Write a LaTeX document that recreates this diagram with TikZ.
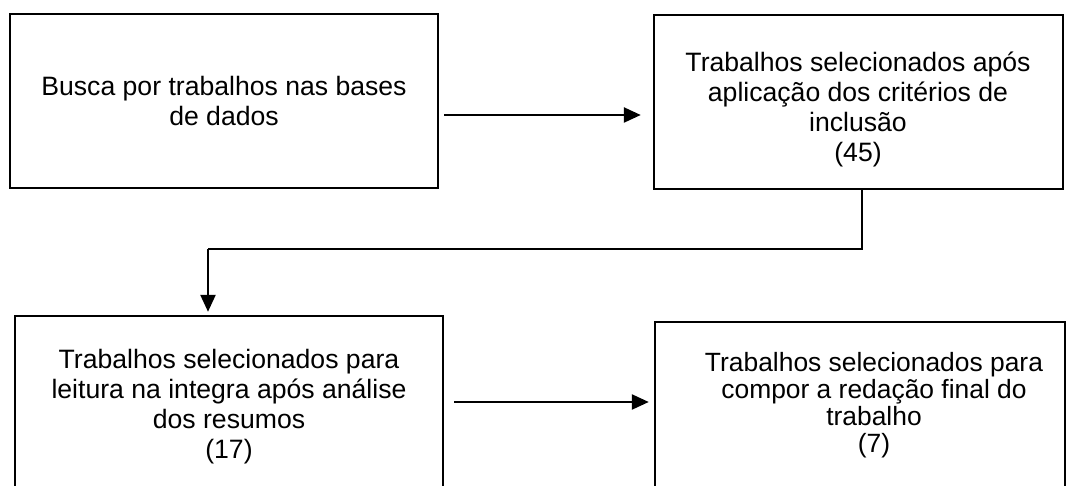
\documentclass[tikz,border=0pt]{standalone}
\usepackage{fontspec}
\setmainfont{Liberation Sans}
\usetikzlibrary{arrows.meta}

\begin{document}
\begin{tikzpicture}[x=0.5pt, y=-0.5pt, ->, >={Triangle[length=8.5pt,width=7.5pt]}]

    \useasboundingbox (0,0) rectangle (1077,486);

    \tikzset{stage/.style={rectangle,
          draw,
          line width = 1.2pt,
          minimum width = 214pt,
          minimum height = 87pt},
          stagetext/.style={align=center,
          font=\fontsize{13.3pt}{15pt}\selectfont}}

    \begin{scope}
    \clip (0,0) rectangle (1077,486);

    \node[stage] (busca) at (224,101) {};
    \node[stagetext] (tbusca) at (224,101) {Busca por trabalhos nas bases\\de dados};

    \node[stage,
        minimum width = 204.5pt
        ] (incl) at (858.5,102) {};
    \node[stagetext] (tincl) at (858,109) {Trabalhos selecionados após\\aplicação dos critérios de\\inclusão\\(45)};

    \node[stage,
        minimum height = 92pt
        ] (resumo) at (229,408) {};
    \node[stagetext] (tresumo) at (229,407) {Trabalhos selecionados para\\leitura na integra após análise\\dos resumos\\(17)};

    \node[stage,
        minimum width = 205pt,
        minimum height = 89pt
        ] (final) at (860,411) {};
    \node[stagetext,
        font=\fontsize{13.2pt}{13.6pt}\selectfont
        ] (tfinal) at (874,405) {Trabalhos selecionados para\\compor a redação final do\\trabalho\\(7)};
    \end{scope}

    \coordinate (bend) at (862,249);
    \coordinate (drop) at (208,249);

    \path[line width=1.2pt]
    %top row
    ([yshift=-7pt]busca.east) edge [shorten <=2.5pt, shorten >=6pt] ([yshift=-7pt]busca.east -| incl.west)
    %bottom row
    ([yshift=3pt]resumo.east) edge [shorten <=5pt, shorten >=2.5pt] ([yshift=3pt]resumo.east -| final.west)
    %down to second row
    (drop) edge [shorten >=1.5pt] (drop |- resumo.north);

    \draw[-, line width=0.8pt] (incl.south -| bend) -- (bend) -- (drop);

\end{tikzpicture}
\end{document}
